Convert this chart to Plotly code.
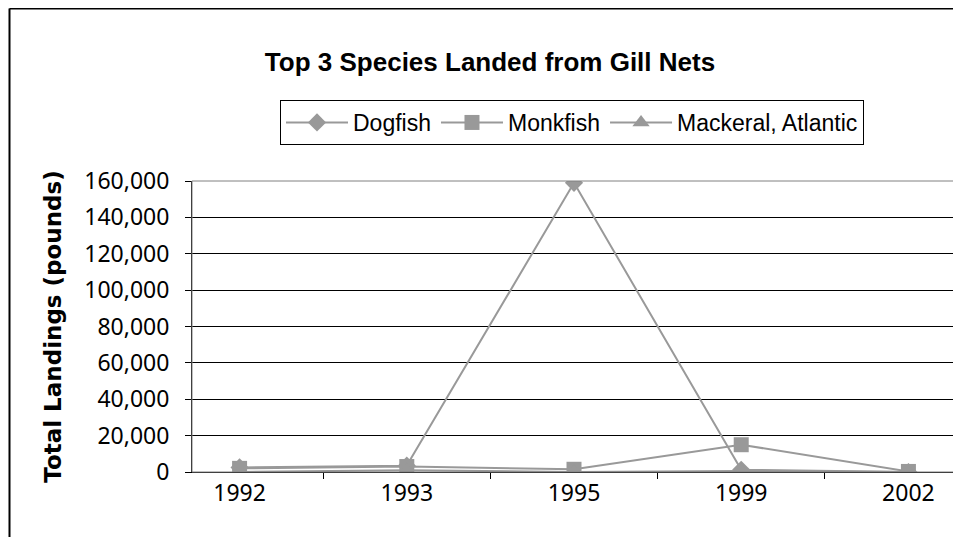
import plotly.graph_objects as go

years = ["1992", "1993", "1995", "1999", "2002"]
dogfish = [2500, 3500, 159000, 1200, 0]
monkfish = [2000, 3000, 1500, 15000, 300]
mackerel = [0, 1000, 0, 600, 0]
y_ticks = [0, 20000, 40000, 60000, 80000, 100000, 120000, 140000, 160000]

GRAY = "#999999"
fig = go.Figure()
series = [("Dogfish", dogfish, "diamond", 14), ("Monkfish", monkfish, "square", 15),
          ("Mackeral, Atlantic", mackerel, "triangle-up", 15)]
for name, vals, sym, sz in series:
    fig.add_trace(go.Scatter(x=years, y=vals, name=name, mode="lines+markers",
                             line=dict(color=GRAY, width=2),
                             marker=dict(symbol=sym, size=sz, color=GRAY)))

OFF = 8  # page body margin
W, H = 953, 529
L, T = 192 - OFF, 181 - OFF
R = W - (956 - OFF)
B = H - (472 - OFF)
pw, ph = W - L - R, H - T - B

def px(x):
    return (x - OFF - L) / pw

def py(y):
    return (H - B - (y - OFF)) / ph

TICKFONT = dict(family="Noto Sans", size=23, color="black")

fig.update_layout(
    width=W, height=H,
    margin=dict(l=L, r=R, t=T, b=B, autoexpand=False),
    paper_bgcolor="white", plot_bgcolor="white",
    title=dict(text="<b>Top 3 Species Landed from Gill Nets</b>", x=(490 - OFF) / W, xanchor="center",
               y=1 - (62 - OFF) / H, yanchor="middle",
               font=dict(family="Liberation Sans", size=26, color="black")),
    legend=dict(orientation="h", x=px(280), y=py(100), xanchor="left", yanchor="top",
                bordercolor="black", borderwidth=1, itemwidth=62,
                font=dict(family="Liberation Sans", size=23, color="black")),
    font=dict(family="Noto Sans", size=23, color="black"),
    showlegend=True,
)
fig.update_xaxes(type="category", showgrid=False, showline=True, linecolor="black", linewidth=1,
                 ticks="outside", ticklen=6, tickcolor="black", tickson="boundaries",
                 tickfont=TICKFONT, automargin=False)
fig.update_yaxes(range=[0, 160000], tickvals=y_ticks, tickformat=",d", showgrid=True,
                 gridcolor="black", gridwidth=1, showline=True, linecolor="black", linewidth=1,
                 ticks="outside", ticklen=6, tickcolor="black", zeroline=False,
                 ticklabelstandoff=11, automargin=False,
                 title=dict(text="<b>Total Landings (pounds)</b>", standoff=16,
                            font=dict(family="DejaVu Sans", size=23, color="black")),
                 tickfont=TICKFONT)

# plot area border (gray)
fig.add_shape(type="rect", xref="paper", yref="paper", x0=0, y0=0, x1=1, y1=1,
              line=dict(color="#808080", width=1), layer="above")
# outer chart border (left and top)
fig.add_shape(type="line", xref="paper", yref="paper", x0=px(9.5), y0=py(8.5), x1=px(9.5), y1=py(600),
              line=dict(color="black", width=2))
fig.add_shape(type="line", xref="paper", yref="paper", x0=px(9.5), y0=py(8.5), x1=px(1000), y1=py(8.5),
              line=dict(color="black", width=2))

fig.write_html("out.html")
